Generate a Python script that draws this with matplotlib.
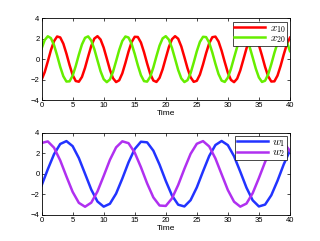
import numpy as np
import matplotlib
matplotlib.use('Agg')
import matplotlib.pyplot as plt

# values
t_fast = np.arange(0, 40.01, 0.5)
x10 = [-2.01, -1.27, -0.22, 0.88, 1.76, 2.22, 2.13, 1.52, 0.54, -0.57,
       -1.55, -2.14, -2.21, -1.74, -0.84, 0.26, 1.30, 2.02, 2.25, 1.92,
       1.13, 0.06, -1.03, -1.86, -2.24, -2.07, -1.39, -0.37, 0.74, 1.67,
       2.19, 2.17, 1.63, 0.68, -0.43, -1.44, -2.09, -2.23, -1.83, -0.98,
       0.11, 1.18, 1.95, 2.25, 2.00, 1.25, 0.20, -0.89, -1.77, -2.22,
       -2.12, -1.51, -0.52, 0.59, 1.56, 2.15, 2.21, 1.73, 0.82, -0.28,
       -1.32, -2.03, -2.25, -1.91, -1.11, -0.04, 1.05, 1.87, 2.24, 2.06,
       1.38, 0.35, -0.76, -1.68, -2.19, -2.17, -1.61, -0.66, 0.45, 1.45,
       2.10]
x20 = [1.04, 1.87, 2.24, 2.06, 1.38, 0.36, -0.75, -1.67, -2.19, -2.17,
       -1.62, -0.67, 0.44, 1.44, 2.09, 2.23, 1.82, 0.97, -0.12, -1.19,
       -1.96, -2.25, -1.99, -1.25, -0.19, 0.90, 1.78, 2.22, 2.12, 1.50,
       0.51, -0.60, -1.57, -2.15, -2.20, -1.72, -0.81, 0.29, 1.33, 2.04,
       2.25, 1.91, 1.10, 0.03, -1.06, -1.88, -2.24, -2.06, -1.37, -0.34,
       0.77, 1.69, 2.19, 2.16, 1.61, 0.65, -0.46, -1.46, -2.10, -2.23,
       -1.81, -0.95, 0.14, 1.20, 1.97, 2.25, 1.98, 1.23, 0.17, -0.92,
       -1.79, -2.23, -2.11, -1.48, -0.49, 0.62, 1.58, 2.16, 2.20, 1.71,
       0.79]

t_slow = np.arange(0, 40.01, 1.0)
w1 = [-1.13, 0.45, 1.91, 2.91, 3.19, 2.70, 1.54, 0.01, -1.53, -2.69,
      -3.19, -2.91, -1.92, -0.46, 1.12, 2.42, 3.13, 3.07, 2.26, 0.90,
      -0.68, -2.10, -3.00, -3.17, -2.56, -1.32, 0.24, 1.74, 2.81, 3.20,
      2.80, 1.72, 0.22, -1.34, -2.57, -3.17, -2.99, -2.08, -0.67, 0.92,
      2.27]
w2 = [3.01, 3.16, 2.55, 1.31, -0.25, -1.75, -2.82, -3.20, -2.80, -1.71,
      -0.20, 1.36, 2.58, 3.17, 2.99, 2.07, 0.65, -0.93, -2.29, -3.08,
      -3.12, -2.39, -1.08, 0.49, 1.95, 2.93, 3.19, 2.67, 1.50, -0.04,
      -1.57, -2.71, -3.19, -2.89, -1.88, -0.41, 1.16, 2.45, 3.14, 3.06,
      2.23]

plt.rcParams['mathtext.fontset'] = 'cm'
plt.rcParams['font.family'] = 'Liberation Sans'

fig = plt.figure(figsize=(3.2, 2.41), dpi=100)
ax1 = fig.add_axes([0.130, 0.585, 0.776, 0.339])
ax2 = fig.add_axes([0.130, 0.108, 0.776, 0.341])

def style(ax):
    ax.set_xlim(0, 40)
    ax.set_ylim(-4, 4)
    ax.set_xticks(range(0, 41, 5))
    ax.set_yticks([-4, -2, 0, 2, 4])
    ax.tick_params(direction='in', length=2, width=0.5, labelsize=5.5, pad=1.5,
                   top=True, right=True)
    for s in ax.spines.values():
        s.set_linewidth(0.6)
    ax.set_xlabel('Time', fontsize=6, labelpad=0.5)

def legend(ax):
    leg = ax.legend(loc='upper right', fontsize=8, handlelength=2.8, borderpad=0.1,
                    labelspacing=-0.15, handletextpad=0.4, borderaxespad=0.3,
                    fancybox=False, framealpha=1, edgecolor='black')
    leg.get_frame().set_linewidth(0.5)

ax1.plot(t_fast, x10, color='#ff0000', lw=1.8, label='$x_{10}$')
ax1.plot(t_fast, x20, color='#66ee00', lw=1.8, label='$x_{20}$')
style(ax1)
legend(ax1)

ax2.plot(t_slow, w1, color='#2233ff', lw=1.8, label='$w_1$')
ax2.plot(t_slow, w2, color='#b030f0', lw=1.8, label='$w_2$')
style(ax2)
legend(ax2)

fig.savefig('out.png', dpi=100)
